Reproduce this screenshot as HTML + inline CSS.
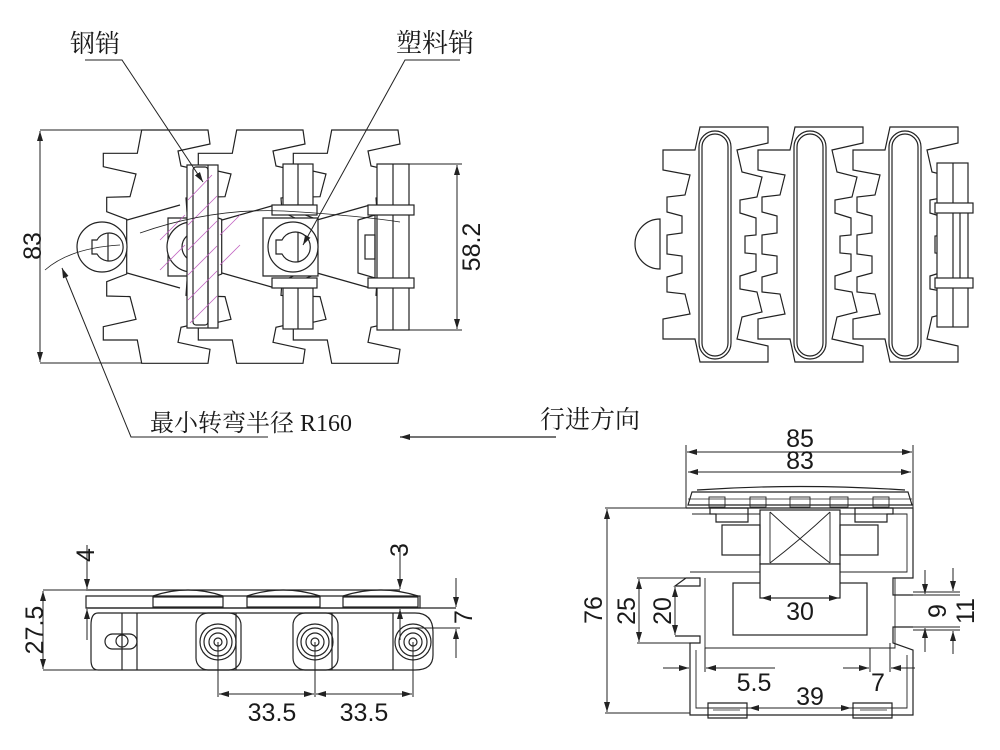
<!DOCTYPE html>
<html><head><meta charset="utf-8"><style>
html,body{margin:0;padding:0;background:#fff;}
svg{display:block;}
text{font-family:"Liberation Sans","Noto Sans CJK SC",sans-serif;fill:#1a1a1a;}
.c{font-family:"Liberation Serif","Noto Serif CJK SC","Noto Sans CJK SC",serif;}
</style></head><body>
<svg width="1000" height="750" viewBox="0 0 1000 750" xmlns="http://www.w3.org/2000/svg">
<defs>
<marker id="a" viewBox="0 0 10 6" refX="10" refY="3" markerWidth="10" markerHeight="6" orient="auto-start-reverse" markerUnits="userSpaceOnUse"><path d="M0,0 L10,3 L0,6 Z" fill="#222"/></marker>
<path id="L" d="M141.7,130 L208,130 L210,144 L178,151 L181,166 L212,173 L207,195 L186,198 L187,212 L200,218 L200,275.3 L187,281.3 L186,295.3 L207,298.3 L212,320.3 L181,327.3 L178,342.3 L210,349.3 L208,363.3 L141.7,363.3 L137.3,340 L103.3,340 L103.3,326.7 L136,319.3 L130,296.6 L106.7,296 L106.7,281.7 L126.7,274 L126.7,219.3 L106.7,211.7 L106.7,197.3 L130,196.7 L136,174 L103.3,166.7 L103.3,153.3 L137.3,153.3 Z"/>
<g id="P">
<path d="M700,127 L768,127 L768,143 L737,150 L742,172 L762,177 L757,197 L740,200 L740,213 L756,218 L756,235 L745,236 L745,253 L756,254 L756,271 L740,276 L740,289 L757,292 L762,312 L742,317 L737,339 L768,346 L768,362 L700,362 L695,339 L663,339 L663,319 L690,314 L685,294 L667,292 L667,277 L682,273 L682,256 L667,254 L667,235 L682,233 L682,216 L667,212 L667,197 L685,195 L690,175 L663,170 L663,150 L695,150 Z" fill="#fff"/>
<rect x="699" y="131" width="32" height="228" rx="16"/>
<rect x="702" y="134" width="26" height="222" rx="13"/>
</g>
</defs>

<g fill="none" stroke="#222" stroke-width="1.2">
<use href="#L" fill="#fff"/>
<use href="#L" transform="translate(95,0)" fill="#fff"/>
<use href="#L" transform="translate(190,0)" fill="#fff"/>
<circle cx="102" cy="247" r="25" fill="#fff"/>
<path d="M92,240 L97,240 A14,14 0 1 1 97,254 L92,254 Z"/>
<line x1="108" y1="233" x2="108" y2="261"/>
<line x1="127" y1="220" x2="180" y2="205"/><line x1="127" y1="273" x2="180" y2="288"/>
<line x1="222" y1="220" x2="275" y2="205"/><line x1="222" y1="273" x2="275" y2="288"/>
<line x1="317" y1="220" x2="370" y2="205"/><line x1="317" y1="273" x2="370" y2="288"/>
<path d="M168,218 L215,218 L215,276 L168,276 Z" fill="#fff"/>
<circle cx="192" cy="247" r="25" fill="#fff"/>
<circle cx="197" cy="247" r="15"/>
<rect x="187" y="165" width="31" height="163" fill="#fff"/>
<rect x="193" y="167" width="15" height="158" rx="3"/>
<line x1="208" y1="165" x2="208" y2="328"/>
<g stroke="#c060c0" stroke-width="0.8">
<line x1="188" y1="200" x2="212" y2="175"/><line x1="188" y1="225" x2="217" y2="196"/><line x1="188" y1="250" x2="217" y2="221"/>
<line x1="188" y1="275" x2="217" y2="246"/><line x1="188" y1="300" x2="217" y2="271"/><line x1="190" y1="323" x2="217" y2="296"/>
<line x1="160" y1="240" x2="185" y2="215"/><line x1="160" y1="270" x2="185" y2="245"/><line x1="220" y1="235" x2="240" y2="215"/><line x1="220" y1="265" x2="240" y2="245"/>
</g>
<path d="M263,218 L318,218 L318,276 L263,276 Z" fill="#fff"/>
<circle cx="293" cy="247" r="25" fill="#fff"/>
<path d="M276,240 L282,240 A15,15 0 1 1 282,254 L276,254 Z"/>
<line x1="298" y1="232" x2="298" y2="262"/>
<rect x="283" y="164" width="30" height="41" fill="#fff"/><line x1="298" y1="164" x2="298" y2="205"/>
<rect x="283" y="288" width="30" height="41" fill="#fff"/><line x1="298" y1="288" x2="298" y2="329"/>
<rect x="272" y="205" width="45" height="10" fill="#fff"/><rect x="272" y="278" width="45" height="10" fill="#fff"/>
<path d="M358,220 L375,215 L375,278 L358,273 Z" fill="#fff"/>
<rect x="365" y="235" width="10" height="24"/>
<rect x="377" y="164" width="32" height="166" fill="#fff"/><line x1="393" y1="164" x2="393" y2="330"/>
<rect x="368" y="205" width="46" height="10" fill="#fff"/><rect x="368" y="278" width="46" height="10" fill="#fff"/>
<path d="M45,270 Q70,248 120,245" stroke-width="0.8"/>
<path d="M140,233 Q220,205 300,212 Q360,216 400,222" stroke-width="0.8"/>
<line x1="40" y1="130" x2="142" y2="130" stroke-width="1"/>
<line x1="40" y1="363" x2="142" y2="363" stroke-width="1"/>
<line x1="40" y1="131" x2="40" y2="362" marker-start="url(#a)" marker-end="url(#a)" stroke-width="1"/>
<line x1="409" y1="164" x2="462" y2="164" stroke-width="1"/>
<line x1="409" y1="330" x2="462" y2="330" stroke-width="1"/>
<line x1="457" y1="165" x2="457" y2="329" marker-start="url(#a)" marker-end="url(#a)" stroke-width="1"/>
<polyline points="85,60 122,60 203,182" marker-end="url(#a)" stroke-width="1"/>
<polyline points="460,60 405,60 303,245" marker-end="url(#a)" stroke-width="1"/>
<polyline points="268,437 131,437 62,268" marker-end="url(#a)" stroke-width="1"/>
<line x1="556" y1="437" x2="400" y2="437" marker-end="url(#a)" stroke-width="1.2"/>

<path d="M660,219 A25,25 0 0 0 660,269 Z" fill="#fff"/>
<use href="#P"/>
<use href="#P" transform="translate(95,0)"/>
<use href="#P" transform="translate(190,0)"/>
<rect x="937" y="163" width="31" height="164" fill="#fff"/><line x1="953" y1="163" x2="953" y2="327"/>
<rect x="935" y="203" width="38" height="10" fill="#fff"/><rect x="935" y="278" width="38" height="10" fill="#fff"/>
<line x1="960" y1="213" x2="960" y2="278"/>

<path d="M98,613 L415,613 Q433,613 433,632 L433,655 Q433,670 415,670 L98,670 Q91,670 91,660 L91,625 Q91,613 98,613 Z" fill="#fff"/>
<rect x="196" y="613" width="45" height="57" rx="12"/>
<rect x="293" y="613" width="45" height="57" rx="12"/>
<line x1="122" y1="613" x2="122" y2="670"/><line x1="137" y1="613" x2="137" y2="670"/>
<line x1="236" y1="613" x2="236" y2="670"/><line x1="332" y1="613" x2="332" y2="670"/><line x1="393" y1="613" x2="393" y2="670"/>
<rect x="105" y="634" width="32" height="15" rx="7.5"/><circle cx="122" cy="641" r="6"/>
<g>
<circle cx="218" cy="642" r="18"/><circle cx="218" cy="642" r="14"/><circle cx="218" cy="642" r="9"/><circle cx="218" cy="642" r="4"/>
<circle cx="315" cy="642" r="18"/><circle cx="315" cy="642" r="14"/><circle cx="315" cy="642" r="9"/><circle cx="315" cy="642" r="4"/>
<circle cx="413" cy="642" r="18"/><circle cx="413" cy="642" r="14"/><circle cx="413" cy="642" r="9"/><circle cx="413" cy="642" r="4"/>
</g>
<path d="M86,596 L420,596 L420,608 L86,608 Z" fill="#fff"/>
<rect x="153" y="597" width="70" height="10"/><rect x="247" y="597" width="73" height="10"/><rect x="343" y="597" width="75" height="10"/>
<path d="M153,596 Q188,584 223,596 M247,596 Q283,584 320,596 M343,596 Q380,584 418,596"/>
<line x1="86" y1="590" x2="400" y2="590"/>
<line x1="86" y1="608" x2="456" y2="608"/>
<line x1="43" y1="590" x2="86" y2="590" stroke-width="1"/><line x1="43" y1="670" x2="137" y2="670" stroke-width="1"/>
<line x1="43" y1="591" x2="43" y2="669" marker-start="url(#a)" marker-end="url(#a)" stroke-width="1"/>
<line x1="87" y1="545" x2="87" y2="589" marker-end="url(#a)" stroke-width="1"/>
<line x1="87" y1="640" x2="87" y2="609" marker-end="url(#a)" stroke-width="1"/>
<line x1="400" y1="545" x2="400" y2="589" marker-end="url(#a)" stroke-width="1"/>
<line x1="400" y1="640" x2="400" y2="609" marker-end="url(#a)" stroke-width="1"/>
<line x1="413" y1="628" x2="460" y2="628" stroke-width="1"/>
<line x1="456" y1="578" x2="456" y2="607" marker-end="url(#a)" stroke-width="1"/>
<line x1="456" y1="658" x2="456" y2="629" marker-end="url(#a)" stroke-width="1"/>
<line x1="218" y1="642" x2="218" y2="697" stroke-width="1"/><line x1="315" y1="642" x2="315" y2="697" stroke-width="1"/><line x1="413" y1="642" x2="413" y2="697" stroke-width="1"/>
<line x1="219" y1="694" x2="314" y2="694" marker-start="url(#a)" marker-end="url(#a)" stroke-width="1"/>
<line x1="316" y1="694" x2="412" y2="694" marker-start="url(#a)" marker-end="url(#a)" stroke-width="1"/>

<path d="M688,505 L692,492 L908,492 L912,505 Z" fill="#fff"/>
<path d="M697,490 Q800,483 905,490"/>
<line x1="688" y1="499" x2="912" y2="499" stroke-width="0.8"/>
<g stroke-width="0.9"><rect x="709" y="497" width="16" height="10"/><rect x="750" y="497" width="16" height="10"/><rect x="790" y="497" width="20" height="10"/><rect x="830" y="497" width="18" height="10"/><rect x="873" y="497" width="16" height="10"/></g>
<path d="M686,508 L913,508 L913,578 L893,578 L893,595 L913,595 M913,627 L893,627 L893,643 L913,650 L913,715 L690,715 L690,643 L700,643 L700,636 L675,636 M675,586 L700,586 L700,578 L686,578 Z"/>
<path d="M692,514 L907,514 L907,572 L690,572" stroke-width="0.9"/>
<path d="M696,650 L696,708 L907,708 L907,655" stroke-width="0.9"/>
<rect x="733" y="583" width="134" height="52"/>
<path d="M705,578 L705,648 L895,648 L895,578" stroke-width="0.9"/>
<rect x="760" y="510" width="80" height="54" fill="#fff"/>
<rect x="760" y="564" width="80" height="34" fill="#fff"/>
<path d="M770,512 L770,563 M830,512 L830,563 M770,512 Q800,540 830,563 M830,512 Q800,540 770,563" stroke-width="0.9"/>
<rect x="722" y="525" width="38" height="30"/><rect x="840" y="525" width="38" height="30"/>
<path d="M710,508 L748,508 L748,522 L716,522 L716,514 L710,514 Z"/>
<path d="M855,508 L893,508 L893,514 L887,514 L887,522 L855,522 Z"/>
<path d="M708,718 L708,703 L747,703 L747,718 Z"/><path d="M853,718 L853,703 L892,703 L892,718 Z"/>
<line x1="713" y1="710" x2="740" y2="710" stroke-width="0.8"/><line x1="860" y1="710" x2="887" y2="710" stroke-width="0.8"/>
<line x1="686" y1="445" x2="686" y2="508" stroke-width="1"/><line x1="913" y1="445" x2="913" y2="508" stroke-width="1"/>
<line x1="687" y1="452" x2="912" y2="452" marker-start="url(#a)" marker-end="url(#a)" stroke-width="1"/>
<line x1="688" y1="472" x2="911" y2="472" marker-start="url(#a)" marker-end="url(#a)" stroke-width="1"/>
<line x1="605" y1="508" x2="686" y2="508" stroke-width="1"/><line x1="605" y1="713" x2="690" y2="713" stroke-width="1"/>
<line x1="607" y1="509" x2="607" y2="712" marker-start="url(#a)" marker-end="url(#a)" stroke-width="1"/>
<line x1="637" y1="578" x2="686" y2="578" stroke-width="1"/><line x1="637" y1="643" x2="690" y2="643" stroke-width="1"/>
<line x1="639" y1="579" x2="639" y2="642" marker-start="url(#a)" marker-end="url(#a)" stroke-width="1"/>
<line x1="675" y1="587" x2="675" y2="635" marker-start="url(#a)" marker-end="url(#a)" stroke-width="1"/>
<line x1="761" y1="598" x2="839" y2="598" marker-start="url(#a)" marker-end="url(#a)" stroke-width="1"/>
<line x1="690" y1="643" x2="690" y2="672" stroke-width="1"/><line x1="705" y1="648" x2="705" y2="672" stroke-width="1"/>
<line x1="663" y1="668" x2="689" y2="668" marker-end="url(#a)" stroke-width="1"/>
<line x1="775" y1="668" x2="706" y2="668" marker-end="url(#a)" stroke-width="1"/>
<line x1="870" y1="648" x2="870" y2="672" stroke-width="1"/><line x1="890" y1="643" x2="890" y2="672" stroke-width="1"/>
<line x1="843" y1="668" x2="869" y2="668" marker-end="url(#a)" stroke-width="1"/>
<line x1="915" y1="668" x2="891" y2="668" marker-end="url(#a)" stroke-width="1"/>
<line x1="749" y1="708" x2="851" y2="708" marker-start="url(#a)" marker-end="url(#a)" stroke-width="1"/>
<line x1="893" y1="595" x2="960" y2="595" stroke-width="1"/><line x1="893" y1="627" x2="960" y2="627" stroke-width="1"/>
<line x1="913" y1="592" x2="960" y2="592" stroke-width="1"/><line x1="913" y1="630" x2="960" y2="630" stroke-width="1"/>
<line x1="925" y1="570" x2="925" y2="594" marker-end="url(#a)" stroke-width="1"/>
<line x1="925" y1="652" x2="925" y2="628" marker-end="url(#a)" stroke-width="1"/>
<line x1="953" y1="568" x2="953" y2="591" marker-end="url(#a)" stroke-width="1"/>
<line x1="953" y1="654" x2="953" y2="631" marker-end="url(#a)" stroke-width="1"/>
</g>

<text x="70" y="52" font-size="25" class="c">钢销</text>
<text x="396" y="52" font-size="26" class="c">塑料销</text>
<text x="150" y="431" font-size="24" class="c">最小转弯半径 R160</text>
<text x="540" y="428" font-size="25" class="c">行进方向</text>
<g font-size="25">
<text transform="translate(41,246) rotate(-90)" text-anchor="middle">83</text>
<text transform="translate(480,247) rotate(-90)" text-anchor="middle">58.2</text>
<text transform="translate(43,630) rotate(-90)" text-anchor="middle">27.5</text>
<text transform="translate(94,555) rotate(-90)" text-anchor="middle">4</text>
<text transform="translate(408,550) rotate(-90)" text-anchor="middle">3</text>
<text transform="translate(472,617) rotate(-90)" text-anchor="middle">7</text>
<text x="272" y="721" text-anchor="middle">33.5</text>
<text x="364" y="721" text-anchor="middle">33.5</text>
<text x="800" y="447" text-anchor="middle">85</text>
<text x="800" y="469" text-anchor="middle">83</text>
<text transform="translate(602,610) rotate(-90)" text-anchor="middle">76</text>
<text transform="translate(635,611) rotate(-90)" text-anchor="middle">25</text>
<text transform="translate(671,611) rotate(-90)" text-anchor="middle">20</text>
<text x="800" y="620" text-anchor="middle">30</text>
<text x="754" y="691" text-anchor="middle">5.5</text>
<text x="878" y="691" text-anchor="middle">7</text>
<text x="810" y="705" text-anchor="middle">39</text>
<text transform="translate(946,611) rotate(-90)" text-anchor="middle">9</text>
<text transform="translate(974,611) rotate(-90)" text-anchor="middle">11</text>
</g>
</svg>
</body></html>
